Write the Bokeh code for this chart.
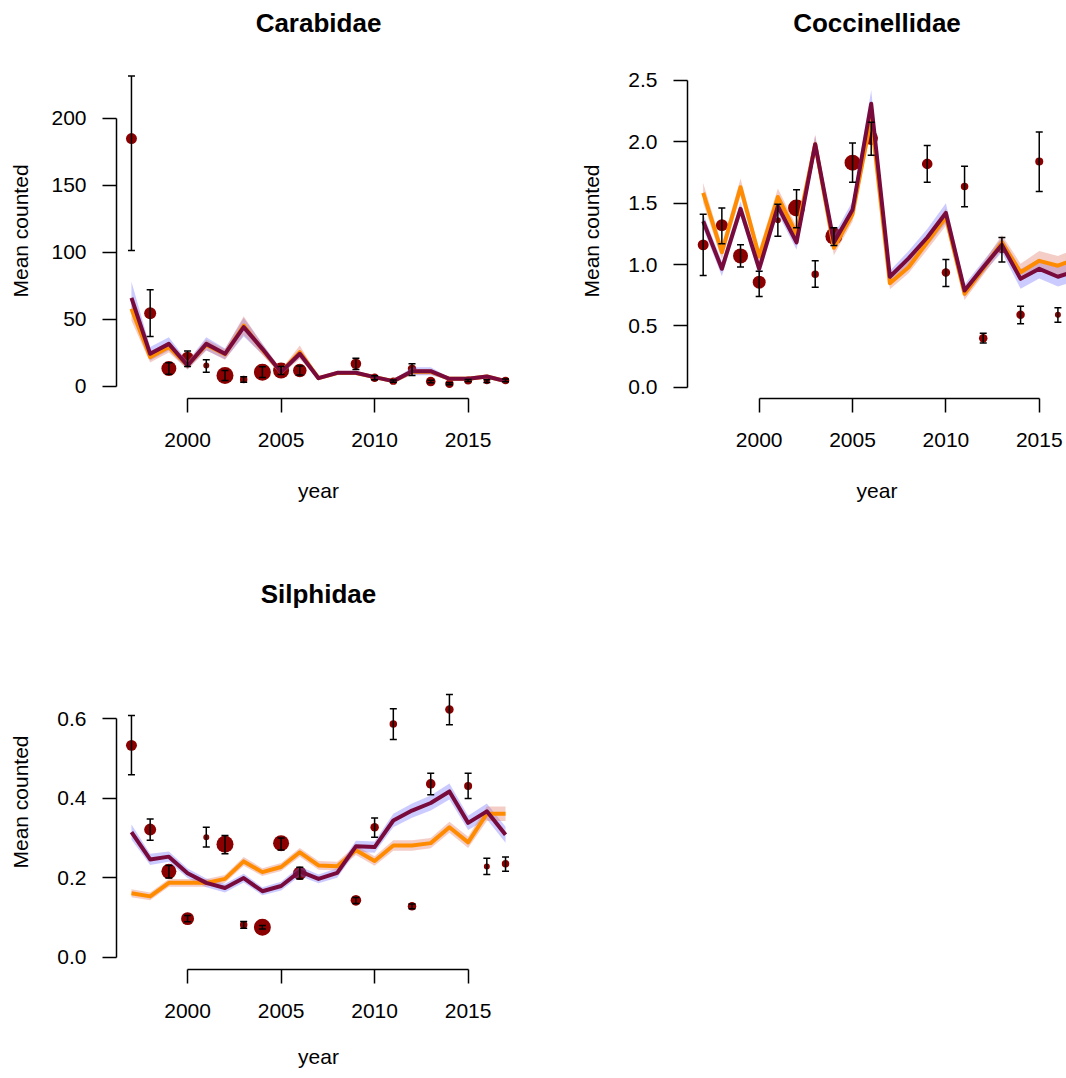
from math import sqrt

from bokeh.plotting import figure
from bokeh.layouts import column, row
from bokeh.models import (Range1d, FixedTicker, NumeralTickFormatter, Whisker,
                          TeeHead, ColumnDataSource, LinearAxis)
from bokeh.embed import file_html
from bokeh.resources import INLINE

# model years and years with field observations
years = list(range(1997, 2018))
obs_years = [1997, 1998, 1999, 2000, 2001, 2002, 2003, 2004, 2005, 2006,
             2009, 2010, 2011, 2012, 2013, 2014, 2015, 2016, 2017]
n_sites = [30, 36, 56, 42, 9, 72, 14, 72, 64, 46, 28, 18, 14, 18, 23, 18, 16, 9, 14]
x_ticks = [2000, 2005, 2010, 2015]

# Carabidae
carab_mean = [185, 54.7, 13.4, 21.1, 15.7, 8.2, 5.2, 10.7, 11.9, 11.9,
              16.9, 6.5, 4.0, 13.2, 3.7, 2.0, 4.5, 4.0, 4.5]
carab_lo = [101.5, 37.3, 9.1, 14.9, 10.7, 4.5, 3.2, 6.7, 9.0, 8.5,
            12.7, 5.0, 3.2, 8.2, 2.7, 1.3, 3.7, 3.0, 3.5]
carab_hi = [231.6, 72.2, 17.7, 26.4, 19.9, 11.9, 7.2, 14.7, 14.9, 15.3,
            21.1, 8.0, 4.8, 16.9, 4.7, 2.7, 5.3, 5.0, 5.5]
carab_fit_a = [58, 21.9, 29.4, 15.7, 31.0, 24.0, 45.5, 27.5, 10.7, 25.6, 6.2,
               10.0, 10.0, 7.0, 4.0, 11.0, 11.0, 5.7, 5.7, 7.5, 4.0]
carab_fit_a_se = [9, 4, 4, 3, 4, 4, 7, 4, 2, 5, 1, 1, 1, 1, 1, 2, 2, 1, 1, 1, 1]
carab_fit_b = [66.2, 24.4, 31.8, 15.7, 31.8, 24.4, 44.3, 28.1, 10.7, 24.4, 6.2,
               10.2, 10.2, 7.0, 4.0, 11.4, 11.4, 5.7, 5.7, 7.5, 4.0]
carab_fit_b_se = [12, 5, 5, 3, 5, 4, 7, 4, 2, 3, 1, 1, 1, 1, 1, 3, 3, 1, 1, 1, 1]
carab_yticks = [0, 50, 100, 150, 200]

# Coccinellidae
cocc_mean = [1.16, 1.32, 1.07, 0.856, 1.36, 1.46, 0.92, 1.23, 1.83, 2.03,
             1.82, 0.935, 1.636, 0.40, 1.13, 0.59, 1.84, 0.59, 0.75]
cocc_lo = [0.91, 1.17, 0.98, 0.74, 1.23, 1.30, 0.815, 1.155, 1.67, 1.89,
           1.67, 0.82, 1.47, 0.36, 1.02, 0.517, 1.595, 0.53, 0.66]
cocc_hi = [1.41, 1.46, 1.16, 0.945, 1.49, 1.61, 1.03, 1.30, 1.99, 2.16,
           1.97, 1.04, 1.80, 0.44, 1.22, 0.66, 2.08, 0.647, 0.84]
cocc_fit_a = [1.584, 1.10, 1.63, 1.065, 1.55, 1.25, 1.98, 1.136, 1.41, 2.20, 0.848,
              0.978, 1.18, 1.386, 0.761, 0.965, 1.18, 0.937, 1.03, 0.99, 1.05]
cocc_fit_a_se = [0.08, 0.06, 0.07, 0.06, 0.07, 0.06, 0.08, 0.06, 0.06, 0.09, 0.05,
                 0.05, 0.06, 0.07, 0.05, 0.05, 0.06, 0.07, 0.08, 0.08, 0.08]
cocc_fit_b = [1.353, 0.965, 1.454, 0.965, 1.475, 1.18, 1.98, 1.18, 1.446, 2.31, 0.90,
              1.05, 1.22, 1.42, 0.788, 0.978, 1.16, 0.883, 0.965, 0.90, 0.95]
cocc_fit_b_se = [0.06, 0.06, 0.06, 0.06, 0.06, 0.06, 0.07, 0.06, 0.07, 0.11, 0.05,
                 0.06, 0.07, 0.08, 0.05, 0.05, 0.06, 0.08, 0.08, 0.08, 0.08]
cocc_yticks = [0, 0.5, 1.0, 1.5, 2.0, 2.5]

# Silphidae
silph_mean = [0.533, 0.321, 0.216, 0.097, 0.302, 0.284, 0.0815, 0.0755, 0.287, 0.211,
              0.143, 0.327, 0.587, 0.128, 0.436, 0.623, 0.431, 0.228, 0.235]
silph_lo = [0.459, 0.294, 0.199, 0.089, 0.277, 0.26, 0.073, 0.071, 0.27, 0.197,
            0.135, 0.302, 0.548, 0.122, 0.409, 0.585, 0.399, 0.208, 0.216]
silph_hi = [0.608, 0.348, 0.231, 0.105, 0.327, 0.306, 0.09, 0.080, 0.30, 0.226,
            0.15, 0.35, 0.625, 0.134, 0.463, 0.661, 0.463, 0.249, 0.252]
silph_fit_a = [0.161, 0.153, 0.187, 0.187, 0.187, 0.197, 0.241, 0.214, 0.227, 0.264, 0.231,
               0.229, 0.269, 0.242, 0.281, 0.281, 0.287, 0.327, 0.289, 0.361, 0.361]
silph_fit_a_se = [0.010, 0.010, 0.010, 0.010, 0.010, 0.010, 0.011, 0.010, 0.010, 0.011, 0.011,
                  0.011, 0.012, 0.012, 0.013, 0.013, 0.013, 0.014, 0.014, 0.018, 0.018]
silph_fit_b = [0.315, 0.246, 0.253, 0.211, 0.187, 0.174, 0.199, 0.166, 0.179, 0.216, 0.197,
               0.212, 0.279, 0.277, 0.344, 0.369, 0.388, 0.417, 0.338, 0.367, 0.308]
silph_fit_b_se = [0.019, 0.014, 0.013, 0.012, 0.011, 0.011, 0.011, 0.010, 0.011, 0.012, 0.011,
                  0.012, 0.014, 0.014, 0.017, 0.018, 0.019, 0.020, 0.018, 0.020, 0.020]
silph_yticks = [0, 0.2, 0.4, 0.6]

FONT = "Liberation Sans"
PT_COL = "#8B0000"
ORANGE = "#FF8C00"
PURPLE = "#780A3C"


def style_axis(ax):
    ax.major_tick_out = 14
    ax.major_tick_in = 0
    ax.minor_tick_out = 0
    ax.minor_tick_in = 0
    ax.axis_line_width = 1.5
    ax.major_tick_line_width = 1.5
    ax.major_label_text_font = FONT
    ax.major_label_text_font_size = "21px"
    ax.major_label_text_color = "black"
    ax.axis_label_text_font = FONT
    ax.axis_label_text_font_size = "21px"
    ax.axis_label_text_font_style = "normal"
    ax.axis_label_text_color = "black"


def make_panel(title, mean, lo, hi, fit_a, fit_a_se, fit_b, fit_b_se, yticks, yfmt,
               width, height, borders, xr, yr, ylab_standoff, xlab_standoff):
    bl, br, bt, bb = borders
    p = figure(width=width, height=height, x_range=Range1d(*xr), y_range=Range1d(*yr),
               output_backend="svg", toolbar_location=None, tools="",
               min_border_left=bl, min_border_right=br, min_border_top=bt,
               min_border_bottom=bb)
    p.outline_line_color = None
    p.xgrid.visible = False
    p.ygrid.visible = False

    xax = p.below[0]
    yax = p.left[0]
    style_axis(xax)
    style_axis(yax)

    xax.ticker = FixedTicker(ticks=x_ticks)
    xax.bounds = (x_ticks[0], x_ticks[-1])
    xax.axis_label = "year"
    xax.axis_label_standoff = xlab_standoff
    xax.major_label_standoff = 20

    yax.ticker = FixedTicker(ticks=yticks)
    yax.bounds = (yticks[0], yticks[-1])
    yax.formatter = NumeralTickFormatter(format=yfmt)
    yax.axis_label = "Mean counted"
    yax.axis_label_standoff = ylab_standoff
    yax.major_label_standoff = 16

    # panel title: an empty axis above the frame carrying only its label
    top = LinearAxis(ticker=FixedTicker(ticks=[]), axis_label=title,
                     axis_line_color=None, major_tick_line_color=None,
                     minor_tick_line_color=None, axis_label_standoff=26,
                     axis_label_text_font=FONT, axis_label_text_font_size="26px",
                     axis_label_text_font_style="bold", axis_label_text_color="black")
    p.add_layout(top, "above")

    # observed means, sized by number of sites
    p.scatter(obs_years, mean, size=[2 * sqrt(n) for n in n_sites],
              fill_color=PT_COL, line_color=None)

    # model fits with confidence ribbons
    p.varea(x=years, y1=[m - s for m, s in zip(fit_b, fit_b_se)],
            y2=[m + s for m, s in zip(fit_b, fit_b_se)],
            fill_color="#6A6AFF", fill_alpha=0.35)
    p.varea(x=years, y1=[m - s for m, s in zip(fit_a, fit_a_se)],
            y2=[m + s for m, s in zip(fit_a, fit_a_se)],
            fill_color="#E0705E", fill_alpha=0.35)
    p.line(years, fit_a, line_color=ORANGE, line_width=4, line_join="round")
    p.line(years, fit_b, line_color=PURPLE, line_width=4, line_join="round")

    src = ColumnDataSource(dict(x=obs_years, lo=lo, hi=hi))
    err = Whisker(base="x", lower="lo", upper="hi", source=src, dimension="height",
                  line_color="black", line_width=1.5, level="overlay",
                  upper_head=TeeHead(size=7, line_color="black", line_width=1.5),
                  lower_head=TeeHead(size=7, line_color="black", line_width=1.5))
    p.add_layout(err)
    return p


p1 = make_panel("Carabidae", carab_mean, carab_lo, carab_hi, carab_fit_a, carab_fit_a_se,
                carab_fit_b, carab_fit_b_se, carab_yticks, "0",
                571, 571, (116, 51, 63, 173), (1996.2, 2017.8), (-8.96, 241.0), 16, 29)
p2 = make_panel("Coccinellidae", cocc_mean, cocc_lo, cocc_hi, cocc_fit_a, cocc_fit_a_se,
                cocc_fit_b, cocc_fit_b_se, cocc_yticks, "0.0",
                495, 571, (116, 0, 63, 173), (1996.16, 2016.46), (-0.092, 2.638), 22, 29)
p3 = make_panel("Silphidae", silph_mean, silph_lo, silph_hi, silph_fit_a, silph_fit_a_se,
                silph_fit_b, silph_fit_b_se, silph_yticks, "0.0",
                571, 507, (116, 51, 63, 109), (1996.2, 2017.8), (-0.031, 0.812), 22, 24)

layout = column(row(p1, p2, spacing=0), p3, spacing=0)
open("out.html", "w").write(file_html(layout, INLINE))
